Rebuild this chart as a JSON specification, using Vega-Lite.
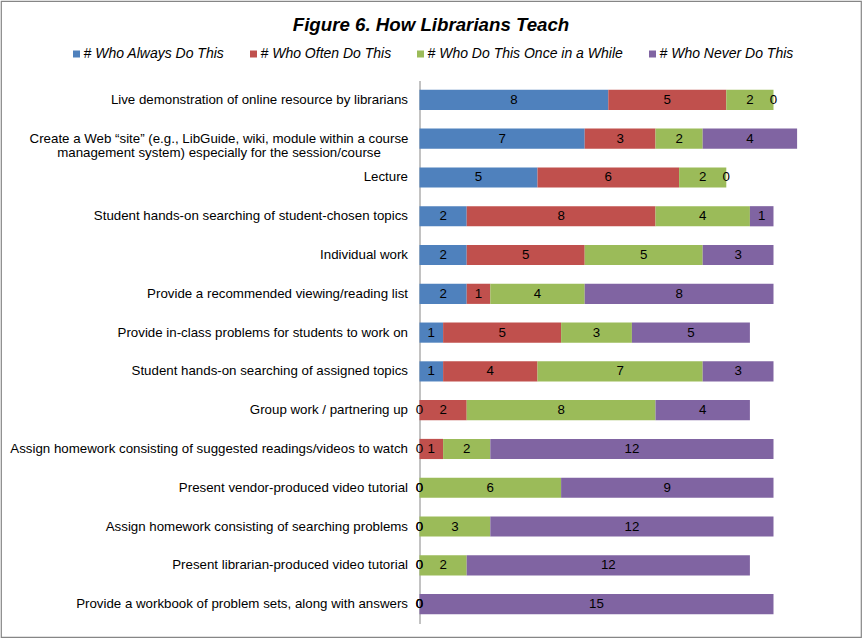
{
  "$schema": "https://vega.github.io/schema/vega-lite/v6.json",
  "width": 860,
  "height": 636,
  "autosize": {"type": "none"},
  "padding": {"left": 1, "top": 1, "right": 2, "bottom": 2},
  "background": "#ffffff",
  "config": {"view": {"stroke": "#868686", "strokeWidth": 1.2}, "font": "Liberation Sans"},
  "title": {"text": "Figure 6. How Librarians Teach", "fontSize": 18.7, "fontWeight": "bold", "fontStyle": "italic", "font": "Liberation Sans", "color": "#000000", "anchor": "middle", "offset": -48.5, "baseline": "alphabetic"},
  "data": {"values": [
    {"task": "Live demonstration of online resource by librarians", "series": "# Who Always Do This", "k": 1, "value": 8},
    {"task": "Live demonstration of online resource by librarians", "series": "# Who Often Do This", "k": 2, "value": 5},
    {"task": "Live demonstration of online resource by librarians", "series": "# Who Do This Once in a While", "k": 3, "value": 2},
    {"task": "Live demonstration of online resource by librarians", "series": "# Who Never Do This", "k": 4, "value": 0},
    {"task": "Create a Web “site” (e.g., LibGuide, wiki, module within a course management system) especially for the session/course", "series": "# Who Always Do This", "k": 1, "value": 7},
    {"task": "Create a Web “site” (e.g., LibGuide, wiki, module within a course management system) especially for the session/course", "series": "# Who Often Do This", "k": 2, "value": 3},
    {"task": "Create a Web “site” (e.g., LibGuide, wiki, module within a course management system) especially for the session/course", "series": "# Who Do This Once in a While", "k": 3, "value": 2},
    {"task": "Create a Web “site” (e.g., LibGuide, wiki, module within a course management system) especially for the session/course", "series": "# Who Never Do This", "k": 4, "value": 4},
    {"task": "Lecture", "series": "# Who Always Do This", "k": 1, "value": 5},
    {"task": "Lecture", "series": "# Who Often Do This", "k": 2, "value": 6},
    {"task": "Lecture", "series": "# Who Do This Once in a While", "k": 3, "value": 2},
    {"task": "Lecture", "series": "# Who Never Do This", "k": 4, "value": 0},
    {"task": "Student hands-on searching of student-chosen topics", "series": "# Who Always Do This", "k": 1, "value": 2},
    {"task": "Student hands-on searching of student-chosen topics", "series": "# Who Often Do This", "k": 2, "value": 8},
    {"task": "Student hands-on searching of student-chosen topics", "series": "# Who Do This Once in a While", "k": 3, "value": 4},
    {"task": "Student hands-on searching of student-chosen topics", "series": "# Who Never Do This", "k": 4, "value": 1},
    {"task": "Individual work", "series": "# Who Always Do This", "k": 1, "value": 2},
    {"task": "Individual work", "series": "# Who Often Do This", "k": 2, "value": 5},
    {"task": "Individual work", "series": "# Who Do This Once in a While", "k": 3, "value": 5},
    {"task": "Individual work", "series": "# Who Never Do This", "k": 4, "value": 3},
    {"task": "Provide a recommended viewing/reading list", "series": "# Who Always Do This", "k": 1, "value": 2},
    {"task": "Provide a recommended viewing/reading list", "series": "# Who Often Do This", "k": 2, "value": 1},
    {"task": "Provide a recommended viewing/reading list", "series": "# Who Do This Once in a While", "k": 3, "value": 4},
    {"task": "Provide a recommended viewing/reading list", "series": "# Who Never Do This", "k": 4, "value": 8},
    {"task": "Provide in-class problems for students to work on", "series": "# Who Always Do This", "k": 1, "value": 1},
    {"task": "Provide in-class problems for students to work on", "series": "# Who Often Do This", "k": 2, "value": 5},
    {"task": "Provide in-class problems for students to work on", "series": "# Who Do This Once in a While", "k": 3, "value": 3},
    {"task": "Provide in-class problems for students to work on", "series": "# Who Never Do This", "k": 4, "value": 5},
    {"task": "Student hands-on searching of assigned topics", "series": "# Who Always Do This", "k": 1, "value": 1},
    {"task": "Student hands-on searching of assigned topics", "series": "# Who Often Do This", "k": 2, "value": 4},
    {"task": "Student hands-on searching of assigned topics", "series": "# Who Do This Once in a While", "k": 3, "value": 7},
    {"task": "Student hands-on searching of assigned topics", "series": "# Who Never Do This", "k": 4, "value": 3},
    {"task": "Group work / partnering up", "series": "# Who Always Do This", "k": 1, "value": 0},
    {"task": "Group work / partnering up", "series": "# Who Often Do This", "k": 2, "value": 2},
    {"task": "Group work / partnering up", "series": "# Who Do This Once in a While", "k": 3, "value": 8},
    {"task": "Group work / partnering up", "series": "# Who Never Do This", "k": 4, "value": 4},
    {"task": "Assign homework consisting of suggested readings/videos to watch", "series": "# Who Always Do This", "k": 1, "value": 0},
    {"task": "Assign homework consisting of suggested readings/videos to watch", "series": "# Who Often Do This", "k": 2, "value": 1},
    {"task": "Assign homework consisting of suggested readings/videos to watch", "series": "# Who Do This Once in a While", "k": 3, "value": 2},
    {"task": "Assign homework consisting of suggested readings/videos to watch", "series": "# Who Never Do This", "k": 4, "value": 12},
    {"task": "Present vendor-produced video tutorial", "series": "# Who Always Do This", "k": 1, "value": 0},
    {"task": "Present vendor-produced video tutorial", "series": "# Who Often Do This", "k": 2, "value": 0},
    {"task": "Present vendor-produced video tutorial", "series": "# Who Do This Once in a While", "k": 3, "value": 6},
    {"task": "Present vendor-produced video tutorial", "series": "# Who Never Do This", "k": 4, "value": 9},
    {"task": "Assign homework consisting of searching problems", "series": "# Who Always Do This", "k": 1, "value": 0},
    {"task": "Assign homework consisting of searching problems", "series": "# Who Often Do This", "k": 2, "value": 0},
    {"task": "Assign homework consisting of searching problems", "series": "# Who Do This Once in a While", "k": 3, "value": 3},
    {"task": "Assign homework consisting of searching problems", "series": "# Who Never Do This", "k": 4, "value": 12},
    {"task": "Present librarian-produced video tutorial", "series": "# Who Always Do This", "k": 1, "value": 0},
    {"task": "Present librarian-produced video tutorial", "series": "# Who Often Do This", "k": 2, "value": 0},
    {"task": "Present librarian-produced video tutorial", "series": "# Who Do This Once in a While", "k": 3, "value": 2},
    {"task": "Present librarian-produced video tutorial", "series": "# Who Never Do This", "k": 4, "value": 12},
    {"task": "Provide a workbook of problem sets, along with answers", "series": "# Who Always Do This", "k": 1, "value": 0},
    {"task": "Provide a workbook of problem sets, along with answers", "series": "# Who Often Do This", "k": 2, "value": 0},
    {"task": "Provide a workbook of problem sets, along with answers", "series": "# Who Do This Once in a While", "k": 3, "value": 0},
    {"task": "Provide a workbook of problem sets, along with answers", "series": "# Who Never Do This", "k": 4, "value": 15}
  ]},
  "transform": [
    {"stack": "value", "groupby": ["task"], "sort": [{"field": "k", "order": "ascending"}], "as": ["x0", "x1"]},
    {"calculate": "(datum.x0 + datum.x1) / 2", "as": "mid"}
  ],
  "encoding": {
    "y": {
      "field": "task",
      "type": "nominal",
      "scale": {
        "domain": [
          "Live demonstration of online resource by librarians",
          "Create a Web “site” (e.g., LibGuide, wiki, module within a course management system) especially for the session/course",
          "Lecture",
          "Student hands-on searching of student-chosen topics",
          "Individual work",
          "Provide a recommended viewing/reading list",
          "Provide in-class problems for students to work on",
          "Student hands-on searching of assigned topics",
          "Group work / partnering up",
          "Assign homework consisting of suggested readings/videos to watch",
          "Present vendor-produced video tutorial",
          "Assign homework consisting of searching problems",
          "Present librarian-produced video tutorial",
          "Provide a workbook of problem sets, along with answers"
        ],
        "range": [79.5, 622.5],
        "paddingInner": 0.48,
        "paddingOuter": 0.24
      },
      "axis": {
        "title": null,
        "orient": "left",
        "offset": -418.5,
        "ticks": false,
        "grid": false,
        "domainColor": "#868686",
        "domainWidth": 1,
        "labelFont": "Liberation Sans",
        "labelFontSize": 13.3,
        "labelColor": "#000000",
        "labelAlign": {"condition": {"test": "indexof(datum.value, 'Create a Web') == 0", "value": "center"}, "value": "right"},
        "labelPadding": {"condition": {"test": "indexof(datum.value, 'Create a Web') == 0", "value": 201}, "value": 12},
        "labelLimit": 0,
        "labelLineHeight": 14,
        "labelExpr": "indexof(datum.value, 'Create a Web') == 0 ? ['Create a Web “site” (e.g., LibGuide, wiki, module within a course', 'management system) especially for the session/course'] : datum.value"
      }
    }
  },
  "layer": [
    {
      "mark": {"type": "bar"},
      "encoding": {
        "x": {"field": "x0", "type": "quantitative", "scale": {"domain": [0, 18], "range": [418.5, 843.3]}, "axis": null},
        "x2": {"field": "x1"},
        "color": {
          "field": "series",
          "type": "nominal",
          "scale": {
            "domain": ["# Who Always Do This", "# Who Often Do This", "# Who Do This Once in a While", "# Who Never Do This"],
            "range": ["#4F81BD", "#C0504D", "#9BBB59", "#8064A2"]
          },
          "legend": {
            "title": null,
            "orient": "none",
            "legendX": 68.5,
            "legendY": 46,
            "direction": "horizontal",
            "symbolType": "square",
            "symbolSize": 49,
            "symbolStrokeWidth": 0,
            "symbolOpacity": 1,
            "labelFont": "Liberation Sans",
            "labelFontSize": 14,
            "labelFontStyle": "italic",
            "labelColor": "#000000",
            "labelOffset": 0,
            "labelLimit": 0,
            "columnPadding": 22
          }
        }
      }
    },
    {
      "mark": {"type": "text", "fontSize": 13.3, "color": "#000000", "font": "Liberation Sans"},
      "encoding": {
        "x": {"field": "mid", "type": "quantitative"},
        "text": {"field": "value", "type": "quantitative"}
      }
    }
  ]
}
